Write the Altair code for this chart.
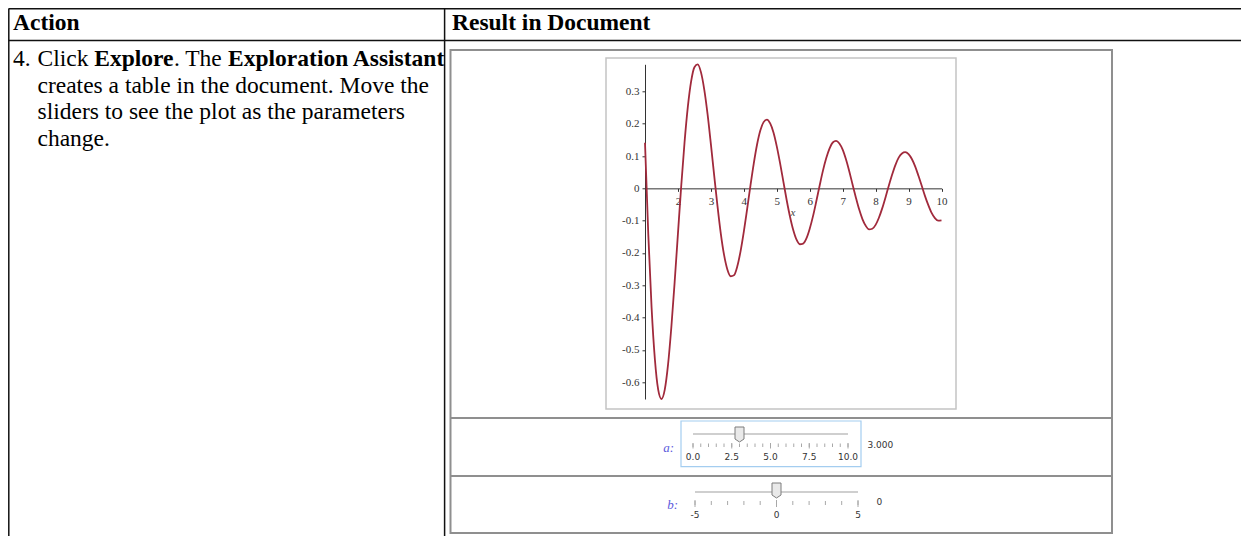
import altair as alt
import pandas as pd

# ---------------- data ----------------
curve_x = [1.0, 1.1, 1.2, 1.3, 1.4, 1.5, 1.6, 1.7, 1.8, 1.9,
           2.0, 2.1, 2.2, 2.3, 2.4, 2.5, 2.6, 2.7, 2.8, 2.9,
           3.0, 3.1, 3.2, 3.3, 3.4, 3.5, 3.6, 3.7, 3.8, 3.9,
           4.0, 4.1, 4.2, 4.3, 4.4, 4.5, 4.6, 4.7, 4.8, 4.9,
           5.0, 5.1, 5.2, 5.3, 5.4, 5.5, 5.6, 5.7, 5.8, 5.9,
           6.0, 6.1, 6.2, 6.3, 6.4, 6.5, 6.6, 6.7, 6.8, 6.9,
           7.0, 7.1, 7.2, 7.3, 7.4, 7.5, 7.6, 7.7, 7.8, 7.9,
           8.0, 8.1, 8.2, 8.3, 8.4, 8.5, 8.6, 8.7, 8.8, 8.9,
           9.0, 9.1, 9.2, 9.3, 9.4, 9.5, 9.6, 9.7, 9.8, 9.9, 10.0]
curve_y = [0.141, -0.143, -0.369, -0.529, -0.623, -0.652, -0.623, -0.545, -0.429, -0.290,
           -0.140, 0.008, 0.142, 0.252, 0.331, 0.375, 0.384, 0.359, 0.305, 0.229,
           0.137, 0.040, -0.054, -0.139, -0.206, -0.251, -0.272, -0.269, -0.242, -0.195,
           -0.134, -0.064, 0.008, 0.076, 0.135, 0.179, 0.205, 0.213, 0.201, 0.173,
           0.130, 0.078, 0.021, -0.036, -0.087, -0.129, -0.159, -0.173, -0.171, -0.155,
           -0.125, -0.086, -0.040, 0.008, 0.054, 0.093, 0.123, 0.142, 0.147, 0.139,
           0.120, 0.090, 0.053, 0.012, -0.028, -0.065, -0.095, -0.116, -0.127, -0.125,
           -0.113, -0.091, -0.062, -0.028, 0.008, 0.042, 0.072, 0.095, 0.108, 0.112,
           0.106, 0.091, 0.068, 0.039, 0.008, -0.024, -0.052, -0.076, -0.092, -0.100, -0.099]
x_domain = [1, 10]
y_domain = [-0.652, 0.384]
x_ticks = [2, 3, 4, 5, 6, 7, 8, 9, 10]
y_ticks = [0.3, 0.2, 0.1, 0, -0.1, -0.2, -0.3, -0.4, -0.5, -0.6]

slider_a_domain = [0, 10]
slider_a_minor = [0, 0.5, 1, 1.5, 2, 2.5, 3, 3.5, 4, 4.5, 5, 5.5, 6, 6.5, 7, 7.5, 8, 8.5, 9, 9.5, 10]
slider_a_major = [0, 2.5, 5, 7.5, 10]
slider_a_labels = ["0.0", "2.5", "5.0", "7.5", "10.0"]
slider_a_value = 3.0
slider_a_text = "3.000"

slider_b_domain = [-5, 5]
slider_b_minor = [-5, -4, -3, -2, -1, 0, 1, 2, 3, 4, 5]
slider_b_major = [-5, 0, 5]
slider_b_labels = ["-5", "0", "5"]
slider_b_value = 0
slider_b_text = "0"

header_texts = ["Action", "Result in Document"]
body_line1 = ["4.", "Click", "Explore", ". The", "Exploration Assistant"]
body_line1_bold = [False, False, True, False, True]
body_lines = ["creates a table in the document. Move the",
              "sliders to see the plot as the parameters",
              "change."]

# ---------------- layout (page pixels) ----------------
OX, OY = 645.0, 64.3          # top-left of the plot's axes area on the page
PW, PH = 296.5, 334.7         # size of the axes area
SVG_W, SVG_H = 1233, 528
PAD_L, PAD_T = OX - 8, OY - 8
PAD_R = SVG_W - PAD_L - PW
PAD_B = SVG_H - PAD_T - PH
RIGHT = 8 + SVG_W
BOTTOM = 8 + SVG_H


def px(v):
    return v - OX


def py(v):
    return v - OY


dummy = pd.DataFrame({"d": [0]})
SERIF = "Liberation Serif, Times New Roman, serif"
SANS = "DejaVu Sans, Verdana, sans-serif"


def hline(x1, x2, y, color, w):
    return alt.Chart(dummy).mark_rule(color=color, strokeWidth=w).encode(
        x=alt.value(px(x1)), x2=alt.value(px(x2)), y=alt.value(py(y)))


def vline(x, y1, y2, color, w):
    return alt.Chart(dummy).mark_rule(color=color, strokeWidth=w).encode(
        x=alt.value(px(x)), y=alt.value(py(y1)), y2=alt.value(py(y2)))


def box(x1, x2, y1, y2, color, w):
    return alt.Chart(dummy).mark_rect(fill="white", fillOpacity=0, stroke=color, strokeWidth=w).encode(
        x=alt.value(px(x1)), x2=alt.value(px(x2)), y=alt.value(py(y1)), y2=alt.value(py(y2)))


def text(x, y, s, size, weight="normal", style="normal", font=SERIF, color="#000000",
         align="left", baseline="alphabetic"):
    return alt.Chart(dummy).mark_text(text=s, font=font, fontSize=size, fontWeight=weight,
                                      fontStyle=style, color=color, align=align,
                                      baseline=baseline).encode(
        x=alt.value(px(x)), y=alt.value(py(y)))


layers = []

# Maple document frame and rows
INNER_R = 1112
layers.append(box(450.5, INNER_R, 50, 533, "#8f8f8f", 2))
layers.append(hline(450.5, INNER_R, 418, "#8f8f8f", 2))
layers.append(hline(450.5, INNER_R, 476, "#8f8f8f", 2))
# plot frame
layers.append(box(606, 956, 58, 409, "#c4c4c4", 1.5))

# the curve with its axes
curve_df = pd.DataFrame({"x": curve_x, "y": curve_y})
zero_off = -(PH - PH * (y_domain[1] - 0) / (y_domain[1] - y_domain[0]))
curve = alt.Chart(curve_df).mark_line(color="#a12a3c", strokeWidth=1.8, interpolate="monotone").encode(
    x=alt.X("x:Q", scale=alt.Scale(domain=x_domain, nice=False, zero=False),
            axis=alt.Axis(values=x_ticks, orient="bottom", offset=zero_off, title=None, grid=False,
                          labelFont=SERIF, labelFontSize=11, labelColor="#333333",
                          domainColor="#333333", tickColor="#333333", tickSize=3,
                          labelPadding=4, labelFlush=False, labelOverlap=False, format="d")),
    y=alt.Y("y:Q", scale=alt.Scale(domain=y_domain, nice=False, zero=False),
            axis=alt.Axis(values=y_ticks, title=None, grid=False,
                          labelExpr="datum.value == 0 ? '0' : (datum.value < 0 ? '-' + format(-datum.value, '.1f') : format(datum.value, '.1f'))",
                          labelFont=SERIF, labelFontSize=11, labelColor="#333333",
                          domainColor="#333333", tickColor="#333333", tickSize=3,
                          labelPadding=3, labelFlush=False, labelOverlap=False)),
)
layers.append(curve)
layers.append(text(793, 216, "x", 11, style="italic", color="#444444", align="center"))

# ---------------- slider a ----------------
a_scale = alt.Scale(domain=slider_a_domain, range=[px(693), px(848)], nice=False, zero=False)
layers.append(box(681, 861, 421, 466.7, "#a4cdf0", 1.2))
layers.append(text(674, 448, "a:", 13, style="italic", color="#5b5bdc", align="right", baseline="middle"))
a_track = pd.DataFrame({"a": [slider_a_domain[0]], "a2": [slider_a_domain[1]]})
layers.append(alt.Chart(a_track).mark_rule(color="#cfcfcf", strokeWidth=2).encode(
    x=alt.X("a:Q", scale=a_scale, axis=None), x2="a2:Q", y=alt.value(py(434))))
layers.append(alt.Chart(pd.DataFrame({"a": slider_a_minor})).mark_rule(color="#a8a8a8", strokeWidth=1).encode(
    x=alt.X("a:Q", scale=a_scale, axis=None), y=alt.value(py(443.5)), y2=alt.value(py(447))))
layers.append(alt.Chart(pd.DataFrame({"a": slider_a_major})).mark_rule(color="#a8a8a8", strokeWidth=1).encode(
    x=alt.X("a:Q", scale=a_scale, axis=None), y=alt.value(py(443)), y2=alt.value(py(448.5))))
layers.append(alt.Chart(pd.DataFrame({"a": slider_a_major, "t": slider_a_labels})).mark_text(
    font=SANS, fontSize=9, color="#333333", baseline="middle").encode(
    x=alt.X("a:Q", scale=a_scale, axis=None), y=alt.value(py(457)), text="t:N"))
layers.append(alt.Chart(pd.DataFrame({"a": [slider_a_value]})).mark_point(
    shape="M-0.6,-1L0.6,-1L0.6,0.6L0,1L-0.6,0.6Z", size=225, filled=True, fill="#e9e9e9",
    stroke="#7d7d7d", strokeWidth=1, opacity=1).encode(
    x=alt.X("a:Q", scale=a_scale, axis=None), y=alt.value(py(434.5))))
layers.append(text(867.5, 445, slider_a_text, 9, font=SANS, color="#333333", baseline="middle"))

# ---------------- slider b ----------------
b_scale = alt.Scale(domain=slider_b_domain, range=[px(695), px(858)], nice=False, zero=False)
layers.append(text(678, 505, "b:", 13, style="italic", color="#5b5bdc", align="right", baseline="middle"))
b_track = pd.DataFrame({"b": [slider_b_domain[0]], "b2": [slider_b_domain[1]]})
layers.append(alt.Chart(b_track).mark_rule(color="#cfcfcf", strokeWidth=2).encode(
    x=alt.X("b:Q", scale=b_scale, axis=None), x2="b2:Q", y=alt.value(py(492))))
layers.append(alt.Chart(pd.DataFrame({"b": slider_b_minor})).mark_rule(color="#a8a8a8", strokeWidth=1).encode(
    x=alt.X("b:Q", scale=b_scale, axis=None), y=alt.value(py(501)), y2=alt.value(py(505))))
layers.append(alt.Chart(pd.DataFrame({"b": slider_b_major})).mark_rule(color="#a8a8a8", strokeWidth=1).encode(
    x=alt.X("b:Q", scale=b_scale, axis=None), y=alt.value(py(500)), y2=alt.value(py(507))))
layers.append(alt.Chart(pd.DataFrame({"b": slider_b_major, "t": slider_b_labels})).mark_text(
    font=SANS, fontSize=9, color="#333333", baseline="middle").encode(
    x=alt.X("b:Q", scale=b_scale, axis=None), y=alt.value(py(515)), text="t:N"))
layers.append(alt.Chart(pd.DataFrame({"b": [slider_b_value]})).mark_point(
    shape="M-0.6,-1L0.6,-1L0.6,0.6L0,1L-0.6,0.6Z", size=225, filled=True, fill="#e9e9e9",
    stroke="#7d7d7d", strokeWidth=1, opacity=1).encode(
    x=alt.X("b:Q", scale=b_scale, axis=None), y=alt.value(py(490.5))))
layers.append(text(879.3, 502, slider_b_text, 9, font=SANS, color="#333333", align="center", baseline="middle"))

# ---------------- document table ----------------
TBL = "#111111"
layers.append(hline(8.5, RIGHT, 8.8, TBL, 1.5))
layers.append(hline(8.5, RIGHT, 40.5, TBL, 1.5))
layers.append(vline(8.8, 8.8, BOTTOM, TBL, 1.5))
layers.append(vline(444.6, 8.8, BOTTOM, TBL, 1.5))

FS = 23.5
layers.append(text(13, 29.5, header_texts[0], FS, weight="bold"))
layers.append(text(452, 29.5, header_texts[1], FS, weight="bold"))

line1_x = [13, 37.5, 94.3, 173.9, 228.1]
for s, b, xx in zip(body_line1, body_line1_bold, line1_x):
    layers.append(text(xx, 66, s, FS, weight="bold" if b else "normal"))
for i, s in enumerate(body_lines):
    layers.append(text(37.5, 66 + 26.5 * (i + 1), s, FS))

chart = alt.layer(*layers).resolve_scale(x="independent").properties(
    width=PW, height=PH,
    padding={"left": PAD_L, "top": PAD_T, "right": PAD_R, "bottom": PAD_B},
    autosize=alt.AutoSizeParams(type="none"),
    background="white",
).configure_view(strokeWidth=0)

chart.save("out.html", embed_options={"renderer": "svg", "actions": False})
